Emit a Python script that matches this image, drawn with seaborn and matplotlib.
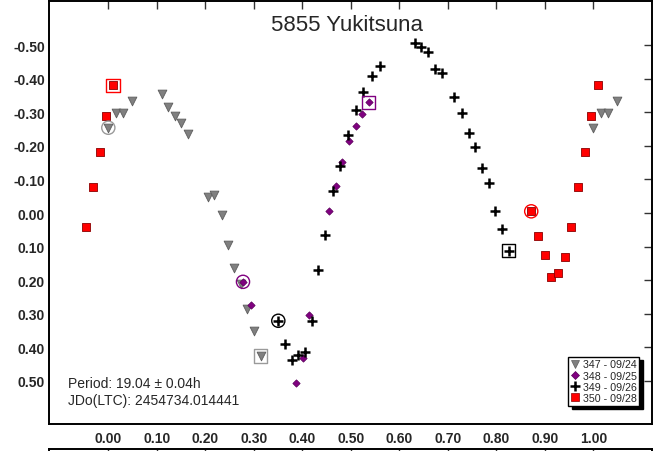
import numpy as np
import pandas as pd
import matplotlib
matplotlib.use("Agg")
import matplotlib.pyplot as plt
from matplotlib.lines import Line2D
import seaborn as sns

# --- Lightcurve data: rotational phase and relative magnitude per session ---
sessions = ["347 - 09/24", "348 - 09/25", "349 - 09/26", "350 - 09/28"]

phase_347 = [0.000, 0.016, 0.031, 0.048, 0.110, 0.124, 0.1375, 0.1505, 0.164,
             0.205, 0.2186, 0.234, 0.246, 0.260, 0.274, 0.286, 0.300, 0.314]
mag_347 = [-0.254, -0.298, -0.298, -0.335, -0.355, -0.315, -0.290, -0.268, -0.234,
           -0.049, -0.054, 0.005, 0.095, 0.164, 0.210, 0.287, 0.352, 0.426]

phase_348 = [0.2777, 0.295, 0.387, 0.4007, 0.414, 0.4557, 0.470, 0.482, 0.497,
             0.510, 0.524, 0.537]
mag_348 = [0.205, 0.273, 0.506, 0.431, 0.305, -0.007, -0.081, -0.151, -0.215,
           -0.259, -0.295, -0.330]

phase_349 = [0.3505, 0.365, 0.378, 0.391, 0.4054, 0.419, 0.4316, 0.446, 0.463,
             0.478, 0.495, 0.5107, 0.526, 0.543, 0.560, 0.633, 0.645, 0.659,
             0.673, 0.688, 0.713, 0.7285, 0.743, 0.756, 0.770, 0.784, 0.797,
             0.811, 0.8254]
mag_349 = [0.321, 0.389, 0.437, 0.423, 0.415, 0.321, 0.169, 0.065, -0.065,
           -0.141, -0.231, -0.307, -0.360, -0.407, -0.437, -0.506, -0.495, -0.480,
           -0.430, -0.418, -0.345, -0.299, -0.239, -0.198, -0.135, -0.090, -0.006,
           0.047, 0.112]

phase_350 = [0.872, 0.8866, 0.900, 0.913, 0.927, 0.941, 0.9546, 0.968, 0.982,
             0.9945, 0.0096]
mag_350 = [-0.005, 0.069, 0.125, 0.192, 0.178, 0.130, 0.043, -0.077, -0.181,
           -0.290, -0.381]

phases = [phase_347, phase_348, phase_349, phase_350]
mags = [mag_347, mag_348, mag_349, mag_350]

x_ticks = [0.0, 0.1, 0.2, 0.3, 0.4, 0.5, 0.6, 0.7, 0.8, 0.9, 1.0]
y_ticks = [-0.5, -0.4, -0.3, -0.2, -0.1, 0.0, 0.1, 0.2, 0.3, 0.4, 0.5]

title = "5855 Yukitsuna"
period_text = "Period: 19.04 \u00b1 0.04h"
epoch_text = "JDo(LTC): 2454734.014441"

# phase overlap shown on either side of the 0..1 cycle
wrap = 0.05

# --- styling per session ---
styles = [
    dict(marker="v", s=40, color="#808080", edgecolor="#5e5e5e", linewidth=0.6, ring="#9a9a9a"),
    dict(marker="D", s=14, color="#800080", edgecolor="#5a005a", linewidth=0.5, ring="#800080"),
    dict(marker="+", s=62, color="black", edgecolor="black", linewidth=1.8, ring="black"),
    dict(marker="s", s=28, color="#ff0000", edgecolor="#8a0000", linewidth=0.6, ring="#ff0000"),
]

sns.set_style("white")
plt.rcParams["font.family"] = ["Liberation Sans", "DejaVu Sans"]

fig = plt.figure(figsize=(6.58, 4.52), dpi=100)
W, H = 658.0, 452.0
ax = fig.add_axes([49 / W, 1 - 425 / H, 603 / W, 423.5 / H])

for name, ph, mg, st in zip(sessions, phases, mags, styles):
    ph = np.asarray(ph, float)
    mg = np.asarray(mg, float)
    # duplicate points near the cycle edges
    lo = ph < wrap
    hi = ph > 1 - wrap
    x_all = np.concatenate([ph, ph[lo] + 1.0, ph[hi] - 1.0])
    y_all = np.concatenate([mg, mg[lo], mg[hi]])
    df = pd.DataFrame({"phase": x_all, "mag": y_all})
    kw = dict(marker=st["marker"], s=st["s"], linewidth=st["linewidth"], zorder=3)
    if st["marker"] == "+":
        sns.scatterplot(data=df, x="phase", y="mag", ax=ax, color=st["color"], **kw)
    else:
        sns.scatterplot(data=df, x="phase", y="mag", ax=ax, color=st["color"],
                        edgecolor=st["edgecolor"], **kw)
    # first point of the session circled, last point boxed
    ends = pd.DataFrame({"phase": [ph[0]], "mag": [mg[0]]})
    sns.scatterplot(data=ends, x="phase", y="mag", ax=ax, marker="o", s=90,
                    facecolor="none", edgecolor=st["ring"], linewidth=1.0, zorder=4)
    ends = pd.DataFrame({"phase": [ph[-1]], "mag": [mg[-1]]})
    sns.scatterplot(data=ends, x="phase", y="mag", ax=ax, marker="s", s=90,
                    facecolor="none", edgecolor=st["ring"], linewidth=1.0, zorder=4)

ax.set_xlim(-0.1223, 1.121)
ax.set_ylim(0.6285, -0.633)
ax.set_xlabel("")
ax.set_ylabel("")
ax.set_xticks(x_ticks)
ax.set_xticklabels([f"{v:.2f}" for v in x_ticks])
ax.set_yticks(y_ticks)
ax.set_yticklabels([f"{v:.2f}" for v in y_ticks])
ax.tick_params(axis="both", which="major", direction="in", length=6, width=1,
               color="#333333", top=True, right=True, labelsize=10)
ax.tick_params(axis="x", pad=5)
ax.tick_params(axis="y", pad=3)
for lab in ax.get_xticklabels() + ax.get_yticklabels():
    lab.set_fontweight("bold")
for sp in ax.spines.values():
    sp.set_color("black")
    sp.set_linewidth(1.4)

ax.text(0.495, 0.930, title, transform=ax.transAxes, ha="center", va="baseline",
        fontsize=16)
ax.text(68 / W, 1 - 388 / H, period_text, transform=fig.transFigure, ha="left",
        va="baseline", fontsize=10)
ax.text(68 / W, 1 - 405 / H, epoch_text, transform=fig.transFigure, ha="left",
        va="baseline", fontsize=10)

handles = []
for name, st in zip(sessions, styles):
    if st["marker"] == "+":
        h = Line2D([], [], ls="none", marker="+", color="black", markersize=7,
                   markeredgewidth=1.8)
    elif st["marker"] == "D":
        h = Line2D([], [], ls="none", marker="D", color=st["color"], markersize=4,
                   markeredgecolor=st["edgecolor"], markeredgewidth=0.5)
    else:
        h = Line2D([], [], ls="none", marker=st["marker"], color=st["color"],
                   markersize=6, markeredgecolor=st["edgecolor"], markeredgewidth=0.5)
    handles.append(h)
leg = ax.legend(handles, sessions, loc="lower right", bbox_to_anchor=(0.979, 0.043),
                borderaxespad=0, fontsize=7.7, frameon=True, fancybox=False,
                handlelength=0.8, handletextpad=0.3, labelspacing=0.12,
                borderpad=0.25, edgecolor="black", framealpha=1,
                shadow={"color": "black", "alpha": 1, "ox": 2.5, "oy": -2.5})
leg.get_frame().set_linewidth(1.0)

# start of the next panel below, cut by the figure edge
ax2 = fig.add_axes([49 / W, -0.5, 603 / W, 0.5 + 1 - 450 / H])
ax2.set_xlim(ax.get_xlim())
ax2.set_ylim(0, 1)
ax2.set_xticks(x_ticks)
ax2.set_yticks([])
ax2.tick_params(axis="x", direction="in", length=6, width=1, color="#333333",
                top=True, bottom=False, labelbottom=False)
for sp in ax2.spines.values():
    sp.set_color("black")
    sp.set_linewidth(1.4)

fig.savefig("out.png", dpi=100)
